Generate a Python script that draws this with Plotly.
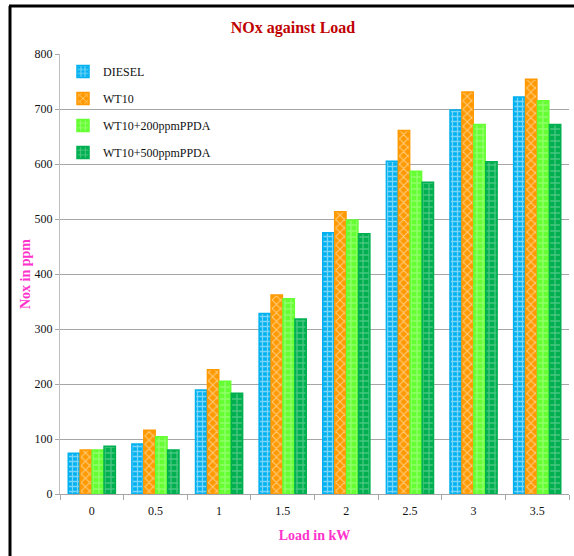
import plotly.graph_objects as go

loads = ["0", "0.5", "1", "1.5", "2", "2.5", "3", "3.5"]
diesel = [74, 91, 189, 328, 475, 605, 698, 722]
wt10 = [80, 116, 226, 362, 513, 661, 731, 754]
wt10_200 = [80, 104, 205, 355, 498, 587, 672, 715]
wt10_500 = [87, 80, 183, 318, 473, 567, 604, 672]
y_ticks = [0, 100, 200, 300, 400, 500, 600, 700, 800]

series = [
    ("DIESEL", diesel, "#00B0F0", "+", 5, 0.45, "rgba(255,255,255,0.95)"),
    ("WT10", wt10, "#FF9900", "x", 6, 0.35, "rgba(255,255,255,0.95)"),
    ("WT10+200ppmPPDA", wt10_200, "#66FF33", "+", 6, 0.4, "rgba(255,255,255,0.55)"),
    ("WT10+500ppmPPDA", wt10_500, "#00B050", "+", 6, 0.4, "rgba(255,255,255,0.55)"),
]

fig = go.Figure()
for i, (name, vals, col, shp, sz, sol, fg) in enumerate(series):
    fig.add_trace(go.Bar(
        x=loads, y=vals, name=name, legendgroup=f"g{i}",
        marker=dict(color=col, line=dict(color=col, width=1.5),
                    pattern=dict(shape=shp, fillmode="overlay", fgcolor=fg,
                                 size=sz, solidity=sol)),
    ))

serif = "Liberation Serif, Times New Roman, serif"
W, H = 574, 556
L, R, T, B = 60, 5, 54, 62
pw, ph = W - L - R, H - T - B

def px2x(px):
    return (px - L) / pw

def py2y(py):
    return (H - B - py) / ph

fig.update_layout(
    width=W, height=H,
    margin=dict(l=L, r=R, t=T, b=B),
    paper_bgcolor="white", plot_bgcolor="white",
    barmode="group", bargap=0.25, bargroupgap=0.05,
    title=dict(text="<b>NOx against Load</b>", x=293 / W, xanchor="center",
               y=1 - 27 / H, yanchor="middle", yref="container",
               font=dict(family=serif, size=16, color="#C00000")),
    font=dict(family=serif, size=12, color="#1a1a2e"),
    legend=dict(x=px2x(63), y=py2y(57), xanchor="left", yanchor="top",
                bgcolor="rgba(0,0,0,0)", tracegroupgap=8,
                font=dict(family=serif, size=12, color="#111"),
                itemwidth=30),
    xaxis=dict(type="category", showgrid=False, showline=True, linecolor="#A6A6A6",
               linewidth=1, ticks="outside", tickson="boundaries", ticklen=5,
               tickcolor="#A6A6A6", ticklabelstandoff=6,
               title=dict(text="<b>Load in kW</b>", standoff=12,
                          font=dict(family=serif, size=14, color="#FF33CC")),
               tickfont=dict(family=serif, size=12, color="#111")),
    yaxis=dict(range=[0, 800], tickvals=y_ticks, showgrid=True, gridcolor="#A6A6A6",
               gridwidth=1, showline=True, linecolor="#BFBFBF", linewidth=1,
               ticks="outside", ticklen=4, tickcolor="#A6A6A6", zeroline=False,
               title=dict(text="<b>Nox in ppm</b>", standoff=0,
                          font=dict(family=serif, size=14, color="#FF33CC")),
               tickfont=dict(family=serif, size=12, color="#111")),
    shapes=[
        dict(type="line", xref="paper", yref="paper", x0=px2x(10), x1=px2x(10),
             y0=py2y(6), y1=py2y(560), line=dict(color="black", width=3)),
        dict(type="line", xref="paper", yref="paper", x0=px2x(9), x1=px2x(580),
             y0=py2y(6), y1=py2y(6), line=dict(color="black", width=3)),
    ],
)

fig.write_html("out.html", config={"displayModeBar": False})

# remove default page margin so the figure sits at the window's top-left corner
with open("out.html", encoding="utf-8") as f:
    html = f.read()
html = html.replace("<head>", "<head><style>html,body{margin:0;padding:0;overflow:hidden;}</style>", 1)
with open("out.html", "w", encoding="utf-8") as f:
    f.write(html)
